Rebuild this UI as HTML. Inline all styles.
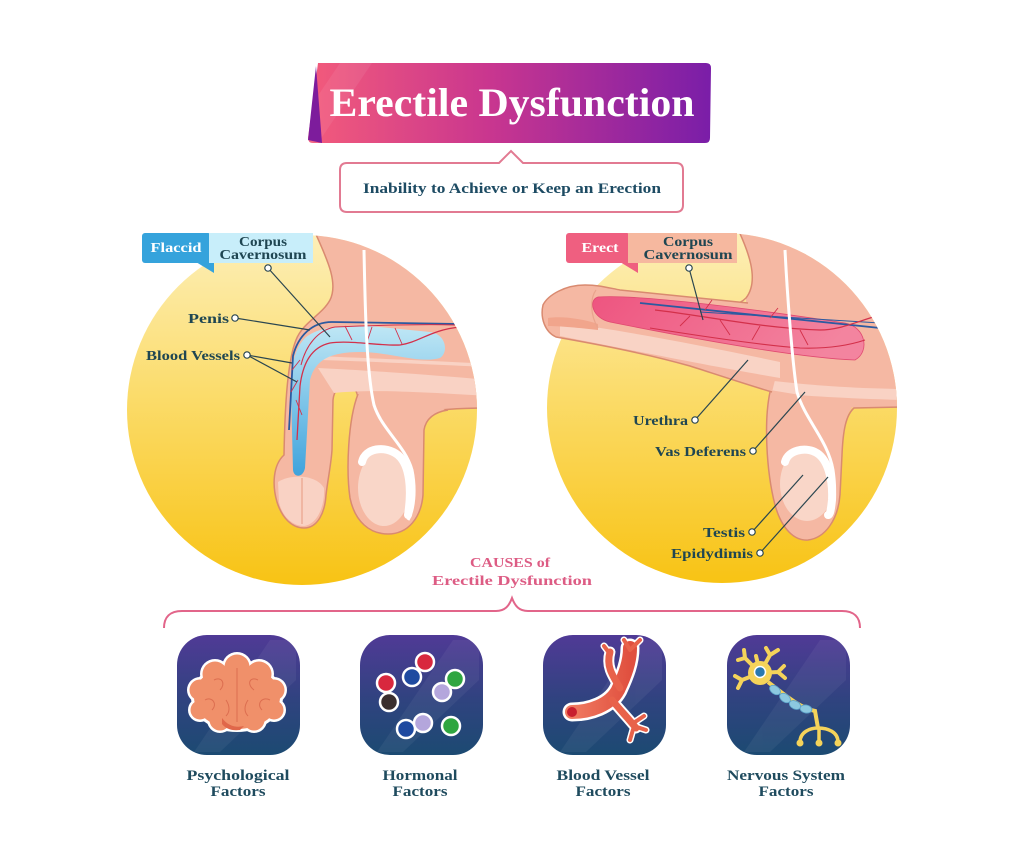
<!DOCTYPE html>
<html><head><meta charset="utf-8"><style>
html,body{margin:0;padding:0;background:#fff;}
svg{display:block;}
text{font-family:"Liberation Serif",serif;font-weight:bold;}
</style></head><body>
<svg width="1024" height="848" viewBox="0 0 1024 848" xmlns="http://www.w3.org/2000/svg">
<defs>
<linearGradient id="ban" x1="0" y1="0" x2="1" y2="0">
<stop offset="0" stop-color="#f35b7b"/><stop offset="0.45" stop-color="#c9368f"/><stop offset="1" stop-color="#7a1ea8"/>
</linearGradient>
<linearGradient id="yel" x1="0" y1="0" x2="0" y2="1">
<stop offset="0" stop-color="#fdefb8"/><stop offset="0.45" stop-color="#fbdc6c"/><stop offset="1" stop-color="#f8c314"/>
</linearGradient>
<linearGradient id="blu" x1="0" y1="0" x2="0" y2="1">
<stop offset="0" stop-color="#bfe7f5"/><stop offset="1" stop-color="#3fa3dc"/>
</linearGradient>
<linearGradient id="cor" x1="0" y1="0" x2="1" y2="0.2">
<stop offset="0" stop-color="#ee5580"/><stop offset="1" stop-color="#f3849f"/>
</linearGradient>
<linearGradient id="ico" x1="0" y1="0" x2="0" y2="1">
<stop offset="0" stop-color="#503a96"/><stop offset="0.55" stop-color="#2f437f"/><stop offset="1" stop-color="#1c4a72"/>
</linearGradient>
<linearGradient id="ves" x1="0" y1="0" x2="1" y2="0">
<stop offset="0" stop-color="#f07a60"/><stop offset="1" stop-color="#e0503f"/>
</linearGradient>
<clipPath id="c1"><circle cx="302" cy="410" r="175"/></clipPath>
<clipPath id="c2"><circle cx="722" cy="408" r="175"/></clipPath>
</defs>

<!-- Title banner -->
<path d="M318,63 L706,63 Q711,63 711,68 L710,138 Q710,143 705,143 L313,143 Q308,143 308,138 Z" fill="url(#ban)"/>
<polygon points="340,63 372,63 318,143 286,143" fill="#ffffff" opacity="0.07"/>
<polygon points="308,140 316,66 322,143" fill="#7d1c9c"/>
<text x="512" y="116" font-size="40" fill="#ffffff" text-anchor="middle" textLength="365" lengthAdjust="spacingAndGlyphs">Erectile Dysfunction</text>

<!-- Subtitle -->
<path d="M347,163 L499,163 L511,151 L523,163 L676,163 Q683,163 683,170 L683,205 Q683,212 676,212 L347,212 Q340,212 340,205 L340,170 Q340,163 347,163 Z" fill="#fff" stroke="#e27a92" stroke-width="2"/>
<text x="512" y="193" font-size="15" fill="#1d4b63" text-anchor="middle" textLength="298" lengthAdjust="spacingAndGlyphs">Inability to Achieve or Keep an Erection</text>

<!-- ============ FLACCID ============ -->
<circle cx="302" cy="410" r="175" fill="url(#yel)"/>
<g clip-path="url(#c1)">
<path d="M312,225 C322,250 340,280 330,300 C322,315 303,322 296,340 C288,360 285,400 284,455 C273,465 272,485 277,502 C282,518 292,528 304,528 C318,528 325,512 326,495 C328,478 331,465 332,450 L333,400 C334,390 340,384 346,384 C352,384 357,390 358,398 L440,410 C450,409 470,408 490,408 L490,225 Z" fill="#f5b8a3" stroke="#d98a70" stroke-width="1.5"/>
<path d="M318,368 C360,370 420,374 490,380 L490,396 C420,392 370,389 334,393 Z" fill="#f9d2c4"/>
<path d="M318,356 C360,358 420,360 490,364 L490,367 C420,364 360,361 318,360 Z" fill="#f9d2c4"/>
<path d="M358,392 C348,420 346,470 350,498 C355,522 370,534 388,534 C408,534 421,518 423,495 L424,430 C426,418 435,412 445,410 L420,395 Z" fill="#f5b8a3"/>
<path d="M358,394 C348,420 346,470 350,498 C355,522 370,534 388,534 C408,534 421,518 423,495 L424,430 C426,418 435,412 448,410" fill="none" stroke="#d98a70" stroke-width="1.5"/>
<ellipse cx="384" cy="488" rx="26" ry="38" fill="#f9d6c8"/>
<path d="M278,482 C290,474 316,474 324,488 C325,505 318,524 304,526 C292,526 282,516 279,502 Z" fill="#f9d2c4"/>
<path d="M302,478 L302,524" stroke="#e9a48d" stroke-width="1.2"/>
<!-- corpus blue -->
<path d="M305,338 C318,327 340,325 370,326 L430,332 C446,334 449,352 440,358 C420,364 390,352 360,352 C330,352 315,360 310,380 L305,468 C303,478 294,478 293,470 L291,390 C291,365 295,348 305,338 Z" fill="url(#blu)"/>
<!-- vessels -->
<path d="M460,324 L332,322 C312,322 298,336 293,356 L289,430" fill="none" stroke="#2c5aa0" stroke-width="1.8"/>
<path d="M460,327 C430,330 420,342 400,345 C380,346 350,340 330,343 C312,347 303,362 300,386 L297,440" fill="none" stroke="#d3304a" stroke-width="1.3"/>
<path d="M455,325 C420,324 360,326 335,327 C318,330 306,345 301,365" fill="none" stroke="#d3304a" stroke-width="1"/>
<path d="M345,326 L352,340 M372,327 L366,345 M395,328 L402,344 M300,360 L292,370 M298,380 L291,392 M296,400 L302,415" stroke="#d3304a" stroke-width="0.9" fill="none"/>
<!-- vas deferens & epididymis -->
<path d="M364,250 C365,300 366,370 374,405 C382,430 405,445 412,470 C416,490 414,510 408,520" fill="none" stroke="#fff" stroke-width="3"/>
<path d="M362,462 C365,448 385,445 398,455 C410,465 412,490 408,515" fill="none" stroke="#fff" stroke-width="8" stroke-linecap="round"/>
</g>

<!-- Flaccid labels -->
<rect x="142" y="233" width="69" height="30" rx="3" fill="#35a3dc"/>
<polygon points="196,262 214,262 214,273" fill="#35a3dc"/>
<rect x="209" y="233" width="104" height="30" fill="#c8eefa"/>
<text x="176" y="252" font-size="14" fill="#fff" text-anchor="middle" textLength="51" lengthAdjust="spacingAndGlyphs">Flaccid</text>
<text x="263" y="246" font-size="13.5" fill="#1f4652" text-anchor="middle" textLength="48" lengthAdjust="spacingAndGlyphs">Corpus</text>
<text x="263" y="259" font-size="13.5" fill="#1f4652" text-anchor="middle" textLength="87" lengthAdjust="spacingAndGlyphs">Cavernosum</text>
<g stroke="#2a4650" stroke-width="1.2" fill="none">
<line x1="268" y1="268" x2="330" y2="337"/>
<line x1="235" y1="318" x2="310" y2="330"/>
<line x1="247" y1="355" x2="292" y2="363"/>
<line x1="247" y1="355" x2="297" y2="382"/>
</g>
<g fill="#fff" stroke="#2a4650" stroke-width="1.2">
<circle cx="268" cy="268" r="3.2"/><circle cx="235" cy="318" r="3.2"/><circle cx="247" cy="355" r="3.2"/>
</g>
<text x="229" y="323" font-size="14" fill="#1f4652" text-anchor="end" textLength="41" lengthAdjust="spacingAndGlyphs">Penis</text>
<text x="240" y="360" font-size="14" fill="#1f4652" text-anchor="end" textLength="94" lengthAdjust="spacingAndGlyphs">Blood Vessels</text>

<!-- ============ ERECT ============ -->
<circle cx="722" cy="408" r="175" fill="url(#yel)"/>
<g clip-path="url(#c2)">
<path d="M736,225 C748,250 760,280 746,298 L745,330 L772,392 L845,408 C860,407 880,407 900,407 L900,225 Z" fill="#f5b8a3"/>
<path d="M736,225 C748,250 760,280 746,298 C742,302 738,304 732,305" fill="none" stroke="#d98a70" stroke-width="1.5"/>
<path d="M765,380 C800,384 840,388 900,389 L900,400 C840,398 800,396 772,392 Z" fill="#f9d2c4"/>
<path d="M770,390 C764,420 766,470 775,505 C782,530 795,541 808,540 C825,538 838,520 840,495 L842,455 C843,430 846,415 852,408 L800,395 Z" fill="#f5b8a3"/>
<path d="M770,392 C764,420 766,470 775,505 C782,530 795,541 808,540 C825,538 838,520 840,495 L842,455 C843,430 846,415 854,408 L900,407" fill="none" stroke="#d98a70" stroke-width="1.5"/>
<ellipse cx="807" cy="484" rx="27" ry="37" fill="#f9d6c8"/>
</g>
<!-- shaft (extends outside circle) -->
<path d="M748,303 L620,290 C605,287 598,285 585,285 C565,285 548,295 543,305 C540,318 545,332 556,337 C590,343 640,352 690,366 C715,374 745,384 772,392 L790,320 Z" fill="#f5b8a3"/>
<path d="M748,303 L620,290 C605,287 598,285 585,285 C565,285 548,295 543,305 C540,318 545,332 556,337 C590,343 640,352 690,366 C715,374 745,384 772,392" fill="none" stroke="#d98a70" stroke-width="1.5"/>
<path d="M560,322 C620,330 700,345 780,362 L780,378 C720,368 640,352 560,336 Z" fill="#f9d3c5"/>
<path d="M548,318 C560,316 580,318 598,324 L598,330 C580,328 560,326 548,326 Z" fill="#f1a58c"/>
<path d="M596,290 C590,298 590,315 598,328" fill="none" stroke="#e9a48d" stroke-width="1.2"/>
<path d="M598,297 C640,294 760,310 845,323 C866,327 870,352 855,360 C800,358 700,340 610,322 C592,318 588,300 598,297 Z" fill="url(#cor)" stroke="#e04a70" stroke-width="0.8"/>
<g clip-path="url(#c2)">
<path d="M640,303 L880,328" stroke="#2c5aa0" stroke-width="1.8" fill="none"/>
<path d="M700,312 L880,323" stroke="#2c5aa0" stroke-width="1" fill="none"/>
<path d="M655,310 C700,315 760,328 820,330 C840,330 855,322 880,315" stroke="#d3304a" stroke-width="1.2" fill="none"/>
<path d="M650,328 C700,336 760,345 800,348 C830,349 850,345 865,340" stroke="#d3304a" stroke-width="1.1" fill="none"/>
<path d="M690,316 L680,326 M720,320 L730,335 M760,326 L752,340 M800,330 L808,345 M705,310 L712,300 M770,318 L778,308" stroke="#d3304a" stroke-width="0.9" fill="none"/>
<path d="M785,250 C787,290 792,360 797,392 C805,420 828,440 833,470 C836,490 835,512 828,518" fill="none" stroke="#fff" stroke-width="3"/>
<path d="M785,462 C788,450 805,447 815,452 C828,458 833,480 832,500 C831,510 830,515 828,515" fill="none" stroke="#fff" stroke-width="8" stroke-linecap="round"/>
</g>

<!-- Erect labels -->
<rect x="566" y="233" width="64" height="30" rx="3" fill="#ef5f80"/>
<polygon points="620,262 638,262 638,273" fill="#ef5f80"/>
<rect x="628" y="233" width="109" height="30" fill="#f6b89f"/>
<text x="600" y="252" font-size="14" fill="#fff" text-anchor="middle" textLength="37" lengthAdjust="spacingAndGlyphs">Erect</text>
<text x="688" y="246" font-size="13.5" fill="#1f4652" text-anchor="middle" textLength="50" lengthAdjust="spacingAndGlyphs">Corpus</text>
<text x="688" y="259" font-size="13.5" fill="#1f4652" text-anchor="middle" textLength="89" lengthAdjust="spacingAndGlyphs">Cavernosum</text>
<g stroke="#2a4650" stroke-width="1.2" fill="none">
<line x1="689" y1="268" x2="703" y2="320"/>
<line x1="695" y1="420" x2="748" y2="360"/>
<line x1="753" y1="451" x2="805" y2="392"/>
<line x1="752" y1="532" x2="803" y2="475"/>
<line x1="760" y1="553" x2="828" y2="477"/>
</g>
<g fill="#fff" stroke="#2a4650" stroke-width="1.2">
<circle cx="689" cy="268" r="3.2"/><circle cx="695" cy="420" r="3.2"/><circle cx="753" cy="451" r="3.2"/><circle cx="752" cy="532" r="3.2"/><circle cx="760" cy="553" r="3.2"/>
</g>
<text x="688" y="425" font-size="14" fill="#1f4652" text-anchor="end" textLength="55" lengthAdjust="spacingAndGlyphs">Urethra</text>
<text x="746" y="456" font-size="14" fill="#1f4652" text-anchor="end" textLength="91" lengthAdjust="spacingAndGlyphs">Vas Deferens</text>
<text x="745" y="537" font-size="14" fill="#1f4652" text-anchor="end" textLength="42" lengthAdjust="spacingAndGlyphs">Testis</text>
<text x="753" y="558" font-size="14" fill="#1f4652" text-anchor="end" textLength="82" lengthAdjust="spacingAndGlyphs">Epidydimis</text>

<!-- Causes -->
<text x="510" y="567" font-size="14" fill="#dd5c84" text-anchor="middle" textLength="80" lengthAdjust="spacingAndGlyphs">CAUSES of</text>
<text x="512" y="585" font-size="14" fill="#dd5c84" text-anchor="middle" textLength="160" lengthAdjust="spacingAndGlyphs">Erectile Dysfunction</text>
<path d="M164,628 C164,617 170,611 182,611 L496,611 C505,611 509,606 512,598 C515,606 519,611 528,611 L842,611 C854,611 860,617 860,628" fill="none" stroke="#e2658a" stroke-width="2"/>

<!-- Icons -->
<rect x="177" y="635" width="123" height="120" rx="30" fill="url(#ico)"/>
<rect x="360" y="635" width="123" height="120" rx="30" fill="url(#ico)"/>
<rect x="543" y="635" width="123" height="120" rx="30" fill="url(#ico)"/>
<rect x="727" y="635" width="123" height="120" rx="30" fill="url(#ico)"/>
<g opacity="0.05" fill="#fff">
<polygon points="270,640 296,640 296,680 220,752 194,752"/>
<polygon points="453,640 479,640 479,680 403,752 377,752"/>
<polygon points="636,640 662,640 662,680 586,752 560,752"/>
<polygon points="820,640 846,640 846,680 770,752 744,752"/>
</g>

<!-- Brain -->
<g fill="#fff">
<ellipse cx="237" cy="697" rx="46" ry="35"/>
<circle cx="215" cy="674" r="15"/><circle cx="237" cy="667" r="15"/><circle cx="259" cy="674" r="15"/>
<circle cx="200" cy="690" r="13"/><circle cx="274" cy="690" r="13"/><circle cx="200" cy="710" r="12"/>
<circle cx="274" cy="710" r="12"/><circle cx="220" cy="720" r="13"/><circle cx="254" cy="720" r="13"/>
</g>
<g fill="#f0906a">
<ellipse cx="237" cy="697" rx="43" ry="32"/>
<circle cx="215" cy="674" r="12.5"/><circle cx="237" cy="667" r="12.5"/><circle cx="259" cy="674" r="12.5"/>
<circle cx="200" cy="690" r="10.5"/><circle cx="274" cy="690" r="10.5"/><circle cx="200" cy="710" r="9.5"/>
<circle cx="274" cy="710" r="9.5"/><circle cx="220" cy="720" r="10.5"/><circle cx="254" cy="720" r="10.5"/>
</g>
<path d="M222,718 C228,726 236,728 244,726 L240,730 C232,731 226,729 222,724 Z" fill="#e0674a"/>
<g fill="none" stroke="#dc6e50" stroke-width="1">
<path d="M237,668 L237,722"/><path d="M214,680 C222,676 226,684 220,690"/><path d="M258,680 C250,676 246,684 254,690"/>
<path d="M205,700 C212,696 218,704 212,710"/><path d="M270,700 C262,696 256,704 262,710"/><path d="M226,700 C230,706 230,712 226,716"/><path d="M248,700 C244,706 244,712 248,716"/>
</g>

<!-- Hormonal balls -->
<g stroke="#fff" stroke-width="2.5">
<circle cx="425" cy="662" r="9" fill="#d8283e"/>
<circle cx="412" cy="677" r="9" fill="#1f4aa0"/>
<circle cx="386" cy="683" r="9" fill="#d8283e"/>
<circle cx="389" cy="702" r="9" fill="#3a2e2e"/>
<circle cx="455" cy="679" r="9" fill="#2fa640"/>
<circle cx="442" cy="692" r="9" fill="#b4a6dc"/>
<circle cx="406" cy="729" r="9" fill="#1f4aa0"/>
<circle cx="423" cy="723" r="9" fill="#b4a6dc"/>
<circle cx="451" cy="726" r="9" fill="#2fa640"/>
</g>

<!-- Blood vessel icon -->
<g fill="none" stroke-linecap="round" stroke-linejoin="round">
<g stroke="#fff">
<path d="M572,712 C590,712 610,705 618,690 C625,675 630,662 630,648" stroke-width="19"/>
<path d="M620,688 C612,675 606,666 610,652" stroke-width="11"/>
<path d="M612,700 C620,710 628,718 636,728" stroke-width="11"/>
<path d="M632,724 L644,716 M634,726 L630,740 M634,726 L646,730 M630,650 L624,640 M630,650 L640,640 M610,654 L604,646" stroke-width="7"/>
</g>
<g stroke="#e8624a">
<path d="M572,712 C590,712 610,705 618,690 C625,675 630,662 630,648" stroke-width="14" stroke="url(#ves)"/>
<path d="M620,688 C612,675 606,666 610,652" stroke-width="7"/>
<path d="M612,700 C620,710 628,718 636,728" stroke-width="7"/>
<path d="M632,724 L644,716 M634,726 L630,740 M634,726 L646,730 M630,650 L624,640 M630,650 L640,640 M610,654 L604,646" stroke-width="4"/>
</g>
</g>
<circle cx="572" cy="712" r="5" fill="#c81e2e"/>

<!-- Neuron -->
<g fill="none" stroke-linecap="round">
<g stroke="#f5d35a" stroke-width="4">
<path d="M760,673 L745,658 M745,658 L738,660 M745,658 L744,650"/>
<path d="M760,673 L770,655 M770,655 L766,648 M770,655 L778,650"/>
<path d="M760,673 L742,680 M742,680 L735,676 M742,680 L738,688"/>
<path d="M760,673 L778,672 M778,672 L784,666 M778,672 L785,678"/>
<path d="M760,673 L756,656"/>
</g>
</g>
<circle cx="760" cy="673" r="12" fill="#f5d35a"/>
<circle cx="760" cy="672" r="5.5" fill="#2a78b0" stroke="#fff" stroke-width="1.5"/>
<path d="M768,682 C785,695 800,708 815,711 L818,728" fill="none" stroke="#f5d35a" stroke-width="4"/>
<g fill="#8cc8e0" stroke="#5aa0c8" stroke-width="0.8">
<ellipse cx="775" cy="690" rx="6" ry="4" transform="rotate(35 775 690)"/>
<ellipse cx="785" cy="698" rx="6" ry="4" transform="rotate(35 785 698)"/>
<ellipse cx="795" cy="705" rx="6" ry="4" transform="rotate(25 795 705)"/>
<ellipse cx="806" cy="709" rx="6" ry="4" transform="rotate(10 806 709)"/>
</g>
<g fill="none" stroke="#f5d35a" stroke-width="3.5" stroke-linecap="round">
<path d="M800,742 C800,732 810,728 818,728 C828,728 838,732 838,742"/>
<path d="M819,728 L819,742"/>
</g>
<g fill="#f5d35a">
<circle cx="800" cy="743" r="3.5"/><circle cx="819" cy="743" r="3.5"/><circle cx="838" cy="743" r="3.5"/>
</g>

<!-- Factor labels -->
<g font-size="15" fill="#1f4b5e" text-anchor="middle">
<text x="238" y="780" textLength="103" lengthAdjust="spacingAndGlyphs">Psychological</text>
<text x="238" y="796" textLength="55" lengthAdjust="spacingAndGlyphs">Factors</text>
<text x="420" y="780" textLength="75" lengthAdjust="spacingAndGlyphs">Hormonal</text>
<text x="420" y="796" textLength="55" lengthAdjust="spacingAndGlyphs">Factors</text>
<text x="603" y="780" textLength="93" lengthAdjust="spacingAndGlyphs">Blood Vessel</text>
<text x="603" y="796" textLength="55" lengthAdjust="spacingAndGlyphs">Factors</text>
<text x="786" y="780" textLength="118" lengthAdjust="spacingAndGlyphs">Nervous System</text>
<text x="786" y="796" textLength="55" lengthAdjust="spacingAndGlyphs">Factors</text>
</g>
</svg>
</body></html>
